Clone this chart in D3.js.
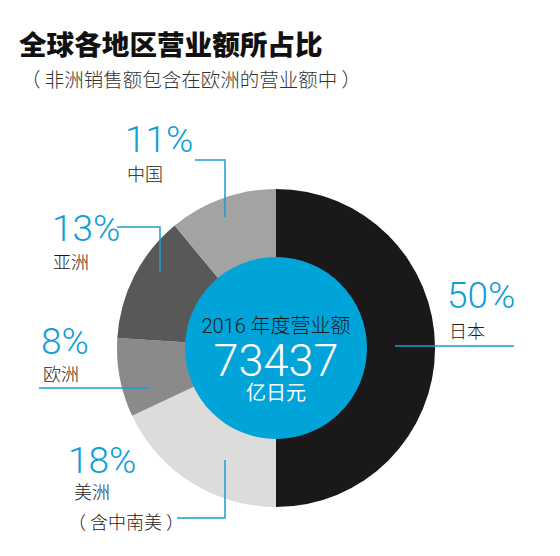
<!DOCTYPE html>
<html>
<head>
<meta charset="utf-8">
<script src="https://cdn.jsdelivr.net/npm/d3@7"></script>
<style>
  html, body { margin: 0; padding: 0; background: #fff; }
  svg { display: block; }
</style>
</head>
<body>
<div id="chart"></div>
<script>
// regions and their share of sales, clockwise from 12 o'clock
var regions = ["日本", "美洲", "欧洲", "亚洲", "中国"];
var shares = [50, 18, 8, 13, 11];
var subNotes = ["", "（ 含中南美 ）", "", "", ""];
var totalLabel = "2016 年度营业额";
var totalValue = "73437";
var totalUnit = "亿日元";

var width = 560, height = 556;
var cx = 276, cy = 348, outerR = 159, innerR = 91;
var colors = ["#1b1819", "#dcdcdb", "#8a8a8a", "#585858", "#a3a3a3"];
var blue = "#00a4d8";
var cjk = "'Noto Sans CJK SC', 'Noto Sans', sans-serif";
var num = "Roboto, 'Noto Sans CJK SC', sans-serif";

// label layout: pct text pos, name pos, leader polyline (page coords)
var layout = [
  {pct: [447, 308], name: [449, 338], line: [[395, 346], [514, 346]]},
  {pct: [68, 473], name: [74, 499], note: [68, 529], line: [[177, 518], [225, 518], [225, 460]]},
  {pct: [41, 354], name: [43, 381], line: [[39, 388], [149, 388]]},
  {pct: [52, 241], name: [53, 269], line: [[117, 227], [160, 227], [160, 272]]},
  {pct: [125, 152], name: [127, 181], line: [[195, 160], [225, 160], [225, 217]]}
];

var data = regions.map(function(r, i) {
  return {region: r, share: shares[i], note: subNotes[i], i: i};
});

var svg = d3.select("#chart").append("svg")
  .attr("width", width)
  .attr("height", height);

// title
svg.append("text")
  .attr("x", 19).attr("y", 55)
  .attr("font-family", cjk)
  .attr("font-weight", 900)
  .attr("font-size", "27.6px")
  .attr("fill", "#111")
  .text("全球各地区营业额所占比");

svg.append("text")
  .attr("x", 21).attr("y", 87)
  .attr("font-family", cjk)
  .attr("font-weight", 300)
  .attr("font-size", "19.5px")
  .attr("fill", "#333")
  .text("（ 非洲销售额包含在欧洲的营业额中 ）");

var pie = d3.pie()
  .sort(null)
  .value(function(d) { return d.share; });

var arc = d3.arc()
  .innerRadius(0)
  .outerRadius(outerR);

var g = svg.append("g")
  .attr("transform", "translate(" + cx + "," + cy + ")");

g.selectAll("path.slice")
  .data(pie(data))
  .enter()
  .append("path")
  .attr("class", "slice")
  .attr("d", arc)
  .attr("fill", function(d) { return colors[d.data.i]; });

g.append("circle")
  .attr("r", innerR)
  .attr("fill", blue);

g.append("text")
  .attr("y", -15)
  .attr("text-anchor", "middle")
  .attr("font-family", num)
  .attr("font-weight", 300)
  .attr("font-size", "20px")
  .attr("fill", "#1a1a1a")
  .text(totalLabel);

g.append("text")
  .attr("y", 28)
  .attr("text-anchor", "middle")
  .attr("font-family", num)
  .attr("font-weight", 300)
  .attr("font-size", "45px")
  .attr("fill", "#fff")
  .text(totalValue);

g.append("text")
  .attr("y", 52)
  .attr("text-anchor", "middle")
  .attr("font-family", cjk)
  .attr("font-weight", 400)
  .attr("font-size", "20px")
  .attr("fill", "#fff")
  .text(totalUnit);

// leader lines and labels
var line = d3.line();

var labels = svg.selectAll("g.label")
  .data(data)
  .enter()
  .append("g")
  .attr("class", "label");

labels.append("path")
  .attr("d", function(d) { return line(layout[d.i].line); })
  .attr("fill", "none")
  .attr("stroke", "#1a9fd0")
  .attr("stroke-width", 1.5);

labels.append("text")
  .attr("x", function(d) { return layout[d.i].pct[0]; })
  .attr("y", function(d) { return layout[d.i].pct[1]; })
  .attr("font-family", num)
  .attr("font-weight", 300)
  .attr("font-size", "37px")
  .attr("fill", "#0f9fd6")
  .text(function(d) { return d.share + "%"; });

labels.append("text")
  .attr("x", function(d) { return layout[d.i].name[0]; })
  .attr("y", function(d) { return layout[d.i].name[1]; })
  .attr("font-family", cjk)
  .attr("font-weight", 300)
  .attr("font-size", "18px")
  .attr("fill", "#1a1a1a")
  .text(function(d) { return d.region; });

labels.filter(function(d) { return d.note; })
  .append("text")
  .attr("x", function(d) { return layout[d.i].note[0]; })
  .attr("y", function(d) { return layout[d.i].note[1]; })
  .attr("font-family", cjk)
  .attr("font-weight", 300)
  .attr("font-size", "18px")
  .attr("fill", "#1a1a1a")
  .text(function(d) { return d.note; });
</script>
</body>
</html>
